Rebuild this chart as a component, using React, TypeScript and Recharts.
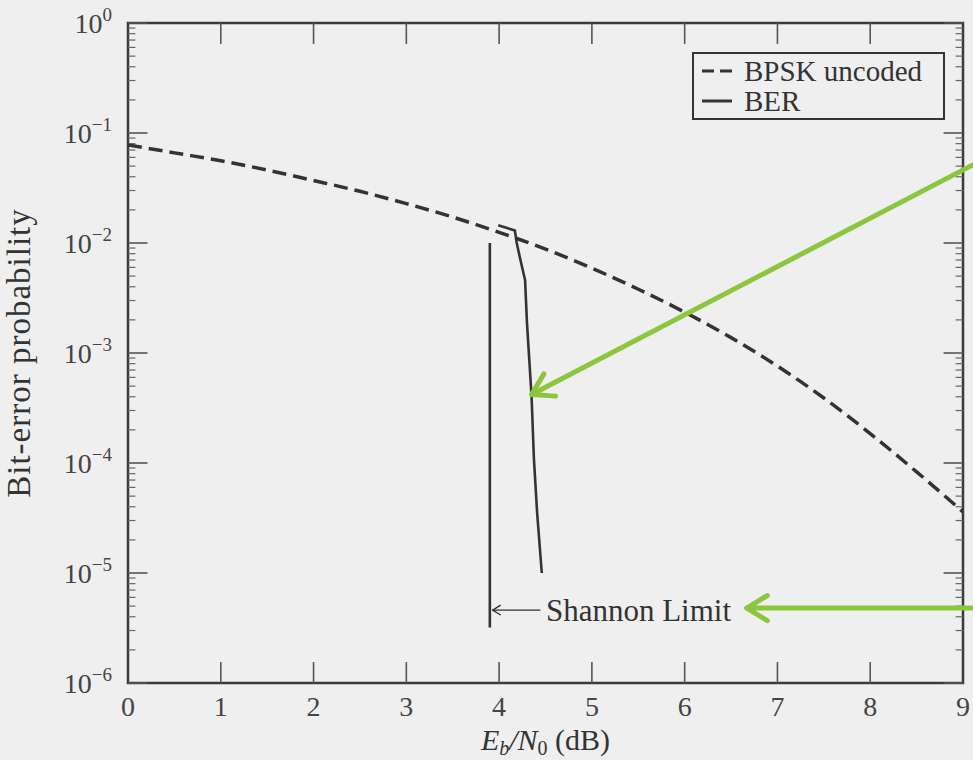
import {
  LineChart,
  Line,
  XAxis,
  YAxis,
  ReferenceLine,
  ReferenceArea,
  Legend,
} from "recharts";

// x axis: Eb/N0 in dB
const ebn0Ticks = [0, 1, 2, 3, 4, 5, 6, 7, 8, 9];
// y axis: decades of bit-error probability
const decadeTicks = [1e-6, 1e-5, 1e-4, 1e-3, 1e-2, 1e-1, 1];
const minorSteps = [2, 3, 4, 5, 6, 7, 8, 9];

// BPSK uncoded (dashed)
const bpskEbN0 = [0, 0.5, 1, 1.5, 2, 2.5, 3, 3.5, 4, 4.5, 5, 5.5, 6, 6.5, 7, 7.5, 8, 8.5, 9];
const bpskBer = [
  7.8e-2, 6.6e-2, 5.6e-2, 4.6e-2, 3.7e-2, 2.95e-2, 2.28e-2, 1.72e-2, 1.25e-2, 8.8e-3,
  5.9e-3, 3.8e-3, 2.35e-3, 1.38e-3, 7.6e-4, 3.9e-4, 1.85e-4, 8.3e-5, 3.6e-5,
];

// coded BER (solid)
const berEbN0 = [3.99, 4.17, 4.19, 4.23, 4.28, 4.3, 4.35, 4.375, 4.41, 4.46];
const berValues = [1.45e-2, 1.3e-2, 1.0e-2, 7e-3, 4.6e-3, 1.9e-3, 4e-4, 1.1e-4, 3.5e-5, 1e-5];

// Shannon limit marker
const shannonEbN0 = [3.9, 3.9];
const shannonBer = [1e-2, 3.2e-6];

const bpskData = bpskEbN0.map((x, i) => ({ x, y: bpskBer[i] }));
const berData = berEbN0.map((x, i) => ({ x, y: berValues[i] }));
const shannonData = shannonEbN0.map((x, i) => ({ x, y: shannonBer[i] }));

const minorTicks = decadeTicks.slice(0, -1).flatMap((d) => minorSteps.map((m) => m * d));

const serif = "'Liberation Serif', 'Times New Roman', serif";
const ink = "#333";
const green = "#8cc63f";

const XTick = ({ x, y, payload }: any) => (
  <text x={x} y={y + 33} textAnchor="middle" fontFamily={serif} fontSize={28} fill="#444">
    {payload.value}
  </text>
);

const YTick = ({ x, y, payload }: any) => {
  const exp = Math.round(Math.log10(payload.value));
  return (
    <text x={x} y={y + 10} textAnchor="end" fontFamily={serif} fontSize={28} fill="#444">
      10
      <tspan dy={-12} fontSize={19}>
        {exp === 0 ? "0" : `\u2212${-exp}`}
      </tspan>
    </text>
  );
};

const XTitle = ({ viewBox }: any) => {
  const cx = viewBox.x + viewBox.width / 2;
  return (
    <text x={cx} y={750} textAnchor="middle" fontFamily={serif} fontSize={30} fill="#333">
      <tspan fontStyle="italic">E</tspan>
      <tspan fontStyle="italic" fontSize={20} dy={5}>b</tspan>
      <tspan fontStyle="italic" dy={-5}>/N</tspan>
      <tspan fontSize={20} dy={5}>0</tspan>
      <tspan dy={-5}> (dB)</tspan>
    </text>
  );
};

const YTitle = ({ viewBox }: any) => {
  const cy = viewBox.y + viewBox.height / 2;
  return (
    <text
      x={30}
      y={cy}
      transform={`rotate(-90, 30, ${cy})`}
      textAnchor="middle"
      fontFamily={serif}
      fontSize={33}
      letterSpacing={1}
      fill="#333"
    >
      Bit-error probability
    </text>
  );
};

const LegendBox = () => (
  <div
    style={{
      border: `2px solid ${ink}`,
      background: "#efefef",
      width: 253,
      height: 68,
      fontFamily: serif,
      fontSize: 29,
      color: "#333",
      lineHeight: "30px",
      padding: "2px 0 0 6px",
      boxSizing: "border-box",
    }}
  >
    <div style={{ display: "flex", alignItems: "center", height: 30 }}>
      <svg width={36} height={20}>
        <line x1={2} y1={10} x2={32} y2={10} stroke={ink} strokeWidth={3} strokeDasharray="12 6" />
      </svg>
      <span style={{ marginLeft: 8 }}>BPSK uncoded</span>
    </div>
    <div style={{ display: "flex", alignItems: "center", height: 30 }}>
      <svg width={36} height={20}>
        <line x1={2} y1={10} x2={32} y2={10} stroke={ink} strokeWidth={3} />
      </svg>
      <span style={{ marginLeft: 8 }}>BER</span>
    </div>
  </div>
);

const arrowShape = (color: string, width: number, head: number, label?: string) => (p: any) => {
  const { x1, y1, x2, y2 } = p;
  const ang = Math.atan2(y1 - y2, x1 - x2);
  const spread = 0.55;
  const h1x = x2 + head * Math.cos(ang + spread);
  const h1y = y2 + head * Math.sin(ang + spread);
  const h2x = x2 + head * Math.cos(ang - spread);
  const h2y = y2 + head * Math.sin(ang - spread);
  return (
    <g>
      <line x1={x1} y1={y1} x2={x2} y2={y2} stroke={color} strokeWidth={width} strokeLinecap="round" />
      <polyline
        points={`${h1x},${h1y} ${x2},${y2} ${h2x},${h2y}`}
        fill="none"
        stroke={color}
        strokeWidth={width}
        strokeLinecap="round"
        strokeLinejoin="round"
      />
      {label && (
        <text x={x1 + 6} y={y1 + 11} fontFamily={serif} fontSize={31} fill="#333">
          {label}
        </text>
      )}
    </g>
  );
};

export default function App() {
  return (
    <div style={{ width: 973, height: 760, background: "#efefef" }}>
      <style>{"body{margin:0}"}</style>
      <LineChart width={973} height={760} margin={{ top: 23, right: 10, bottom: 0, left: 0 }}>
        <XAxis
          type="number"
          dataKey="x"
          domain={[0, 9]}
          ticks={ebn0Ticks}
          allowDataOverflow
          height={77}
          axisLine={false}
          tickLine={false}
          tickSize={0}
          tickMargin={0}
          tick={<XTick />}
          label={{ content: <XTitle /> }}
        />
        <YAxis
          type="number"
          scale="log"
          domain={[1e-6, 1]}
          ticks={decadeTicks}
          allowDataOverflow
          width={128}
          axisLine={false}
          tickLine={false}
          tickSize={0}
          tickMargin={16}
          tick={<YTick />}
          label={{ content: <YTitle /> }}
        />
        <Legend
          layout="vertical"
          align="center"
          verticalAlign="middle"
          content={<LegendBox />}
          wrapperStyle={{ position: "absolute", left: 692, top: 52, width: 253 }}
        />

        {/* frame */}
        <ReferenceArea
          x1={0}
          x2={9}
          y1={1e-6}
          y2={1}
          fill="none"
          stroke="#3a3a3a"
          strokeWidth={2.5}
          ifOverflow="visible"
        />

        {/* inward tick marks */}
        {decadeTicks.map((v) => (
          <ReferenceLine key={`yl${v}`} segment={[{ x: 0, y: v }, { x: 0.21, y: v }]} stroke="#555" strokeWidth={1.6} ifOverflow="visible" />
        ))}
        {decadeTicks.map((v) => (
          <ReferenceLine key={`yr${v}`} segment={[{ x: 8.79, y: v }, { x: 9, y: v }]} stroke="#555" strokeWidth={1.6} ifOverflow="visible" />
        ))}
        {minorTicks.map((v) => (
          <ReferenceLine key={`ml${v}`} segment={[{ x: 0, y: v }, { x: 0.08, y: v }]} stroke="#666" strokeWidth={1.2} ifOverflow="visible" />
        ))}
        {minorTicks.map((v) => (
          <ReferenceLine key={`mr${v}`} segment={[{ x: 8.92, y: v }, { x: 9, y: v }]} stroke="#666" strokeWidth={1.2} ifOverflow="visible" />
        ))}
        {ebn0Ticks.slice(1, -1).map((k) => (
          <ReferenceLine key={`xb${k}`} segment={[{ x: k, y: 1e-6 }, { x: k, y: 1.55e-6 }]} stroke="#555" strokeWidth={1.6} ifOverflow="visible" />
        ))}
        {ebn0Ticks.slice(1, -1).map((k) => (
          <ReferenceLine key={`xt${k}`} segment={[{ x: k, y: 1 }, { x: k, y: 0.645 }]} stroke="#555" strokeWidth={1.6} ifOverflow="visible" />
        ))}

        <Line
          data={bpskData}
          dataKey="y"
          name="BPSK uncoded"
          type="monotone"
          stroke={ink}
          strokeWidth={3.5}
          strokeDasharray="14 7"
          dot={false}
          isAnimationActive={false}
        />
        <Line
          data={berData}
          dataKey="y"
          name="BER"
          type="linear"
          stroke={ink}
          strokeWidth={2.6}
          dot={false}
          isAnimationActive={false}
        />
        <Line
          data={shannonData}
          dataKey="y"
          name="Shannon limit"
          type="linear"
          stroke={ink}
          strokeWidth={2.6}
          dot={false}
          legendType="none"
          isAnimationActive={false}
        />

        {/* Shannon Limit annotation */}
        <ReferenceLine
          segment={[{ x: 4.44, y: 4.6e-6 }, { x: 3.93, y: 4.6e-6 }]}
          ifOverflow="visible"
          shape={arrowShape("#333", 1.3, 9, "Shannon Limit")}
        />

        {/* green pointer arrows */}
        <ReferenceLine
          segment={[{ x: 9.1, y: 5.1e-2 }, { x: 4.35, y: 4.2e-4 }]}
          ifOverflow="visible"
          shape={arrowShape(green, 5, 24)}
        />
        <ReferenceLine
          segment={[{ x: 9.1, y: 4.8e-6 }, { x: 6.67, y: 4.8e-6 }]}
          ifOverflow="visible"
          shape={arrowShape(green, 5, 24)}
        />
      </LineChart>
    </div>
  );
}
